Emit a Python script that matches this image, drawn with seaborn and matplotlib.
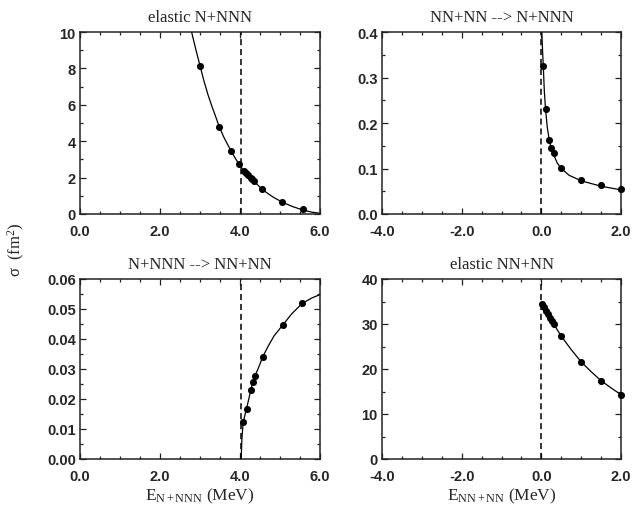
import matplotlib
matplotlib.use("Agg")
import matplotlib.pyplot as plt
from matplotlib.ticker import MultipleLocator, FormatStrFormatter
import seaborn as sns
import pandas as pd

# ---- elastic N+NNN ----
el_nnnn_curve_e = [2.79, 2.9, 3.0, 3.1, 3.2, 3.3, 3.4, 3.48, 3.6, 3.78, 3.9, 4.0, 4.15,
                   4.3, 4.45, 4.56, 4.7, 4.85, 5.06, 5.3, 5.57, 5.8, 6.0]
el_nnnn_curve_s = [10.0, 9.0, 8.15, 7.3, 6.55, 5.9, 5.3, 4.8, 4.2, 3.45, 3.0, 2.65, 2.25,
                   1.9, 1.58, 1.35, 1.12, 0.9, 0.65, 0.42, 0.22, 0.1, 0.04]
el_nnnn_pts_e = [3.0, 3.48, 3.78, 3.98, 4.1, 4.15, 4.2, 4.27, 4.3, 4.35, 4.56, 5.06, 5.57]
el_nnnn_pts_s = [8.15, 4.8, 3.45, 2.72, 2.35, 2.25, 2.15, 2.0, 1.9, 1.8, 1.35, 0.65, 0.25]

# ---- NN+NN --> N+NNN ----
tr_up_curve_e = [0.012, 0.03, 0.05, 0.075, 0.108, 0.15, 0.2, 0.25, 0.31, 0.4, 0.5, 0.7,
                 1.0, 1.5, 2.0]
tr_up_curve_s = [0.40, 0.36, 0.323, 0.27, 0.228, 0.19, 0.162, 0.143, 0.13, 0.112, 0.100,
                 0.085, 0.073, 0.061, 0.053]
tr_up_pts_e = [0.05, 0.108, 0.2, 0.25, 0.31, 0.5, 1.0, 1.5, 2.0]
tr_up_pts_s = [0.325, 0.23, 0.162, 0.145, 0.133, 0.102, 0.075, 0.063, 0.055]

# ---- N+NNN --> NN+NN ----
tr_dn_curve_e = [4.03, 4.045, 4.06, 4.08, 4.12, 4.17, 4.22, 4.27, 4.32, 4.37, 4.45, 4.57,
                 4.7, 4.85, 5.07, 5.3, 5.56, 5.8, 6.0]
tr_dn_curve_s = [0.0, 0.006, 0.009, 0.0122, 0.0145, 0.0172, 0.020, 0.023, 0.0256, 0.0277,
                 0.030, 0.0341, 0.0375, 0.041, 0.0447, 0.0485, 0.0519, 0.0537, 0.0548]
tr_dn_pts_e = [4.08, 4.17, 4.27, 4.32, 4.37, 4.57, 5.07, 5.56]
tr_dn_pts_s = [0.0122, 0.0167, 0.023, 0.0256, 0.0277, 0.0341, 0.0447, 0.0519]

# ---- elastic NN+NN ----
el_nnnn2_curve_e = [0.0, 0.02, 0.07, 0.12, 0.17, 0.22, 0.27, 0.31, 0.4, 0.5, 0.75, 1.0,
                    1.25, 1.5, 1.75, 2.0]
el_nnnn2_curve_s = [34.8, 34.4, 33.8, 33.0, 32.2, 31.4, 30.7, 30.1, 28.7, 27.3, 24.3, 21.6,
                    19.4, 17.4, 15.8, 14.3]
el_nnnn2_pts_e = [0.02, 0.07, 0.12, 0.17, 0.22, 0.27, 0.31, 0.5, 1.0, 1.5, 2.0]
el_nnnn2_pts_s = [34.4, 33.8, 33.0, 32.2, 31.4, 30.7, 30.1, 27.3, 21.6, 17.4, 14.3]

threshold_nnnn = 4.03
threshold_nnnn2 = 0.0

sns.set_style("ticks")
plt.rcParams["mathtext.fontset"] = "custom"
plt.rcParams["mathtext.rm"] = "Liberation Serif"
plt.rcParams["mathtext.it"] = "Liberation Serif:italic"

fig = plt.figure(figsize=(6.33, 5.06), dpi=100)
W, H = 633, 506


def make_ax(x0, y0, x1, y1):
    return fig.add_axes([x0 / W, 1 - y1 / H, (x1 - x0) / W, (y1 - y0) / H])


panels = [
    dict(ax=make_ax(80, 33, 320, 215), title="elastic N+NNN",
         ce=el_nnnn_curve_e, cs=el_nnnn_curve_s, pe=el_nnnn_pts_e, ps=el_nnnn_pts_s,
         xlim=(0, 6), ylim=(0, 10), xmaj=2, xmin=0.5, ymaj=2, ymin=1,
         yfmt="%d", thr=threshold_nnnn, xlabel=None),
    dict(ax=make_ax(382, 33, 621, 215), title="NN+NN --> N+NNN",
         ce=tr_up_curve_e, cs=tr_up_curve_s, pe=tr_up_pts_e, ps=tr_up_pts_s,
         xlim=(-4, 2), ylim=(0, 0.4), xmaj=2, xmin=0.5, ymaj=0.1, ymin=0.05,
         yfmt="%.1f", thr=threshold_nnnn2, xlabel=None),
    dict(ax=make_ax(80, 280, 320, 460), title="N+NNN --> NN+NN",
         ce=tr_dn_curve_e, cs=tr_dn_curve_s, pe=tr_dn_pts_e, ps=tr_dn_pts_s,
         xlim=(0, 6), ylim=(0, 0.06), xmaj=2, xmin=0.5, ymaj=0.01, ymin=0.005,
         yfmt="%.2f", thr=threshold_nnnn, xlabel=r"E$_{\mathrm{N+NNN}}$ (MeV)"),
    dict(ax=make_ax(382, 280, 621, 460), title="elastic NN+NN",
         ce=el_nnnn2_curve_e, cs=el_nnnn2_curve_s, pe=el_nnnn2_pts_e, ps=el_nnnn2_pts_s,
         xlim=(-4, 2), ylim=(0, 40), xmaj=2, xmin=0.5, ymaj=10, ymin=5,
         yfmt="%d", thr=threshold_nnnn2, xlabel=r"E$_{\mathrm{NN+NN}}$ (MeV)"),
]

for p in panels:
    ax = p["ax"]
    curve = pd.DataFrame({"E": p["ce"], "sigma": p["cs"]})
    pts = pd.DataFrame({"E": p["pe"], "sigma": p["ps"]})
    sns.lineplot(data=curve, x="E", y="sigma", ax=ax, color="black", lw=0.9,
                 sort=False, estimator=None, clip_on=True)
    sns.scatterplot(data=pts, x="E", y="sigma", ax=ax, color="black", s=26,
                    edgecolor="black", linewidth=0, zorder=5, clip_on=False)
    ax.axvline(p["thr"], color="black", lw=1.1, ls=(0, (4, 2.5)))
    ax.set_xlim(*p["xlim"])
    ax.set_ylim(*p["ylim"])
    ax.xaxis.set_major_locator(MultipleLocator(p["xmaj"]))
    ax.xaxis.set_minor_locator(MultipleLocator(p["xmin"]))
    ax.yaxis.set_major_locator(MultipleLocator(p["ymaj"]))
    ax.yaxis.set_minor_locator(MultipleLocator(p["ymin"]))
    ax.xaxis.set_major_formatter(FormatStrFormatter("%.1f"))
    ax.yaxis.set_major_formatter(FormatStrFormatter(p["yfmt"]))
    ax.tick_params(which="both", direction="in", top=True, right=True,
                   color="#222222", width=0.9)
    ax.tick_params(axis="x", which="major", pad=7)
    ax.tick_params(axis="y", which="major", pad=3)
    ax.tick_params(which="major", length=4.5)
    ax.tick_params(which="minor", length=2.5)
    for lab in ax.get_xticklabels() + ax.get_yticklabels():
        lab.set_fontfamily("Liberation Sans")
        lab.set_fontweight("bold")
        lab.set_fontsize(10.5)
    for sp in ax.spines.values():
        sp.set_linewidth(1.1)
        sp.set_color("#222222")
    ax.set_title(p["title"], fontfamily="Liberation Serif", fontsize=12, pad=8)
    ax.set_ylabel("")
    if p["xlabel"]:
        ax.set_xlabel(p["xlabel"], fontfamily="Liberation Serif", fontsize=12.5,
                      labelpad=2)
    else:
        ax.set_xlabel("")

fig.text(16 / W, 1 - 250 / H, "σ  (fm$^2$)", rotation=90, ha="center", va="center",
         fontfamily="Liberation Serif", fontsize=12)

fig.savefig("out.png", dpi=100)
